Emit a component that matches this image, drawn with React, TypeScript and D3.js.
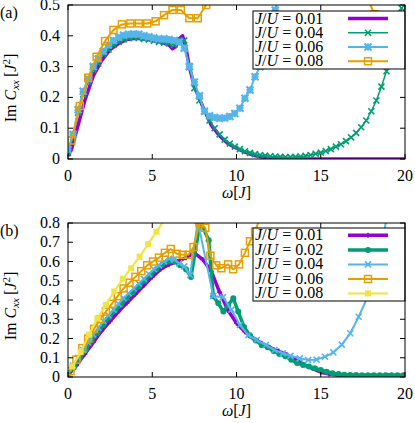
import React from 'react';
import * as d3 from 'd3';

// ---- panel (a) data ----
const wA01 = [0, 0.2, 0.5, 1.0, 1.5, 2.0, 2.5, 3.0, 3.5, 4.0, 4.5, 5.0, 5.5, 6.0, 6.2, 6.4, 6.6, 6.8, 7.0, 7.2, 7.5, 8.0, 8.5, 9.0, 9.5, 10.0, 10.5, 11.0, 11.5, 12.0, 12.5, 20];
const vA01 = [0.01, 0.03, 0.09, 0.19, 0.27, 0.32, 0.355, 0.375, 0.388, 0.392, 0.39, 0.385, 0.38, 0.37, 0.358, 0.365, 0.39, 0.4, 0.36, 0.3, 0.235, 0.17, 0.11, 0.075, 0.05, 0.035, 0.022, 0.012, 0.006, 0.002, 0, 0];

const wA04 = [0, 0.3, 0.6, 0.9, 1.2, 1.5, 1.8, 2.1, 2.4, 2.7, 3.0, 3.3, 3.6, 3.9, 4.2, 4.5, 4.8, 5.1, 5.4, 5.7, 6.0, 6.3, 6.6, 6.9, 7.2, 7.5, 7.8, 8.1, 8.4, 8.7, 9.0, 9.3, 9.6, 9.9, 10.2, 10.5, 10.8, 11.1, 11.4, 11.7, 12.0, 12.3, 12.6, 12.9, 13.2, 13.5, 13.8, 14.1, 14.4, 14.7, 15.0, 15.3, 15.6, 15.9, 16.2, 16.5, 16.8, 17.1, 17.4, 17.7, 18.0, 18.3, 18.6, 18.9, 19.2, 19.5, 19.8];
const vA04 = [0.02, 0.07, 0.15, 0.21, 0.25, 0.29, 0.31, 0.34, 0.355, 0.37, 0.38, 0.388, 0.392, 0.395, 0.393, 0.39, 0.388, 0.384, 0.38, 0.378, 0.375, 0.37, 0.385, 0.385, 0.3, 0.23, 0.19, 0.155, 0.125, 0.1, 0.08, 0.063, 0.05, 0.04, 0.032, 0.025, 0.02, 0.016, 0.013, 0.011, 0.009, 0.008, 0.007, 0.006, 0.006, 0.007, 0.008, 0.01, 0.013, 0.017, 0.021, 0.026, 0.032, 0.04, 0.048, 0.058, 0.07, 0.085, 0.103, 0.125, 0.155, 0.19, 0.235, 0.285, 0.33, 0.4, 0.49];

const wA06 = [0, 0.3, 0.6, 0.9, 1.2, 1.5, 1.8, 2.1, 2.4, 2.7, 3.0, 3.3, 3.6, 3.9, 4.2, 4.5, 4.8, 5.1, 5.4, 5.7, 6.0, 6.3, 6.6, 6.9, 7.2, 7.5, 7.8, 8.1, 8.4, 8.7, 9.0, 9.3, 9.6, 9.9, 10.2, 10.5, 10.8, 11.1, 11.4, 11.7, 12.0, 12.3, 12.6];
const vA06 = [0.03, 0.08, 0.16, 0.22, 0.26, 0.3, 0.325, 0.35, 0.37, 0.385, 0.395, 0.402, 0.405, 0.406, 0.405, 0.4, 0.397, 0.393, 0.39, 0.39, 0.388, 0.385, 0.38, 0.36, 0.3, 0.25, 0.205, 0.155, 0.14, 0.135, 0.132, 0.133, 0.138, 0.148, 0.165, 0.197, 0.224, 0.267, 0.3, 0.345, 0.4, 0.484, 0.56];

const wA08 = [0.2, 0.7, 1.2, 1.7, 2.2, 2.7, 3.2, 3.7, 4.2, 4.7, 5.2, 5.7, 6.2, 6.7, 7.2, 7.7, 8.2, 8.7, 17.2, 17.7, 18.2, 18.7, 19.2, 19.7, 20.2];
const vA08 = [0.06, 0.172, 0.264, 0.332, 0.383, 0.419, 0.437, 0.44, 0.44, 0.44, 0.447, 0.467, 0.484, 0.484, 0.457, 0.457, 0.5, 0.58, 0.62, 0.53, 0.47, 0.43, 0.41, 0.413, 0.5];

// ---- panel (b) data ----
const wB01 = [0, 0.5, 1.0, 1.5, 2.0, 2.5, 3.0, 3.5, 4.0, 4.5, 5.0, 5.5, 6.0, 6.5, 7.0, 7.5, 8.0, 8.5, 9.0, 9.5, 10.0, 10.5, 11.0, 11.5, 12.0, 12.5, 13.0, 13.5, 14.0, 14.5, 15.0, 15.5, 16.0, 17.0, 18.0, 19.0, 20.0];
const vB01 = [0.01, 0.06, 0.12, 0.18, 0.24, 0.29, 0.34, 0.385, 0.43, 0.475, 0.52, 0.56, 0.585, 0.6, 0.62, 0.645, 0.61, 0.55, 0.44, 0.345, 0.28, 0.235, 0.2, 0.175, 0.152, 0.135, 0.115, 0.09, 0.065, 0.045, 0.025, 0.015, 0.01, 0.008, 0.007, 0.007, 0.007];

const wB02 = [0, 0.35, 0.7, 1.05, 1.4, 1.75, 2.1, 2.45, 2.8, 3.15, 3.5, 3.85, 4.2, 4.55, 4.9, 5.25, 5.6, 5.95, 6.3, 6.65, 7.0, 7.3, 7.85, 8.35, 8.62, 8.92, 9.22, 9.51, 9.81, 10.1, 10.45, 10.8, 11.15, 11.5, 11.85, 12.2, 12.55, 12.9, 13.25, 13.6, 13.95, 14.3, 14.65, 15.0, 15.35, 15.7, 16.05, 16.4, 16.75, 17.1, 17.45, 17.8, 18.15, 18.5, 18.85, 19.2, 19.55, 19.9];
const vB02 = [0.02, 0.05, 0.1, 0.14, 0.19, 0.23, 0.27, 0.31, 0.345, 0.375, 0.41, 0.44, 0.47, 0.5, 0.53, 0.56, 0.585, 0.6, 0.6, 0.58, 0.56, 0.52, 0.81, 0.71, 0.42, 0.383, 0.34, 0.374, 0.409, 0.34, 0.26, 0.215, 0.19, 0.165, 0.155, 0.135, 0.12, 0.108, 0.09, 0.073, 0.062, 0.054, 0.045, 0.036, 0.027, 0.02, 0.015, 0.012, 0.01, 0.01, 0.009, 0.009, 0.009, 0.009, 0.009, 0.009, 0.009, 0.009];

const wB04 = [0, 0.3, 0.6, 0.9, 1.2, 1.5, 1.8, 2.1, 2.4, 2.7, 3.0, 3.3, 3.6, 3.9, 4.2, 4.5, 4.8, 5.1, 5.4, 5.7, 6.0, 6.3, 6.6, 6.9, 7.25, 7.7, 8.62, 9.2, 9.7, 10.2, 10.7, 11.2, 11.75, 12.25, 12.75, 13.2, 13.75, 14.25, 14.75, 15.25, 15.75, 16.25, 16.75, 17.25, 17.75, 18.25, 18.75, 19.25];
const vB04 = [0.02, 0.06, 0.1, 0.14, 0.18, 0.22, 0.255, 0.29, 0.32, 0.35, 0.38, 0.41, 0.435, 0.46, 0.485, 0.51, 0.535, 0.56, 0.58, 0.6, 0.615, 0.61, 0.59, 0.575, 0.53, 0.81, 0.42, 0.415, 0.35, 0.27, 0.218, 0.192, 0.166, 0.14, 0.123, 0.11, 0.097, 0.088, 0.09, 0.105, 0.128, 0.168, 0.227, 0.313, 0.41, 0.55, 0.75, 0.98];

const wB06 = [0.15, 0.5, 0.85, 1.2, 1.55, 1.9, 2.25, 2.6, 2.95, 3.3, 3.65, 4.0, 4.35, 4.7, 5.05, 5.4, 5.75, 6.1, 6.45, 6.8, 7.15, 7.45, 7.8, 8.15, 8.45, 8.8, 9.1, 9.5, 9.8, 10.15, 10.5, 10.8, 11.1, 11.4];
const vB06 = [0.03, 0.09, 0.15, 0.2, 0.25, 0.3, 0.34, 0.38, 0.42, 0.46, 0.49, 0.52, 0.55, 0.58, 0.6, 0.62, 0.645, 0.665, 0.64, 0.635, 0.635, 0.675, 0.8, 0.775, 0.63, 0.58, 0.565, 0.585, 0.56, 0.585, 0.645, 0.705, 0.755, 0.83];

const wB08 = [0.25, 0.75, 1.25, 1.75, 2.25, 2.75, 3.25, 3.75, 4.25, 4.75, 5.25, 5.75];
const vB08 = [0.055, 0.13, 0.22, 0.305, 0.375, 0.445, 0.51, 0.565, 0.625, 0.69, 0.755, 0.82];

const xTicks = [0, 5, 10, 15, 20];
const yTicksA = [0, 0.1, 0.2, 0.3, 0.4, 0.5];
const yTicksB = [0, 0.1, 0.2, 0.3, 0.4, 0.5, 0.6, 0.7, 0.8];

const PURPLE = '#9400d3';
const GREEN = '#009e73';
const BLUE = '#56b4e9';
const ORANGE = '#e69f00';
const YELLOW = '#f0e442';

const FONT = "'Liberation Serif', 'Times New Roman', Times, 'DejaVu Serif', serif";

type Series = { label: string; w: number[]; v: number[]; color: string; lw: number; marker: string; ms: number };

const seriesA: Series[] = [
  { label: '0.01', w: wA01, v: vA01, color: PURPLE, lw: 3.5, marker: 'none', ms: 0 },
  { label: '0.04', w: wA04, v: vA04, color: GREEN, lw: 1.5, marker: 'x', ms: 3 },
  { label: '0.06', w: wA06, v: vA06, color: BLUE, lw: 2, marker: 'star', ms: 3.5 },
  { label: '0.08', w: wA08, v: vA08, color: ORANGE, lw: 2, marker: 'square', ms: 3.5 },
];

const seriesB: Series[] = [
  { label: '0.01', w: wB01, v: vB01, color: PURPLE, lw: 3.5, marker: 'plus', ms: 2.5 },
  { label: '0.02', w: wB02, v: vB02, color: GREEN, lw: 3.5, marker: 'dot', ms: 3 },
  { label: '0.04', w: wB04, v: vB04, color: BLUE, lw: 2, marker: 'x', ms: 3 },
  { label: '0.06', w: wB06, v: vB06, color: ORANGE, lw: 2, marker: 'square', ms: 3.5 },
  { label: '0.08', w: wB08, v: vB08, color: YELLOW, lw: 2, marker: 'fsquare', ms: 3 },
];

function Marker({ type, x, y, s, color }: { type: string; x: number; y: number; s: number; color: string }) {
  if (type === 'x')
    return <path d={`M${x - s},${y - s}L${x + s},${y + s}M${x - s},${y + s}L${x + s},${y - s}`} stroke={color} strokeWidth={1.6} />;
  if (type === 'plus')
    return <path d={`M${x - s},${y}L${x + s},${y}M${x},${y - s}L${x},${y + s}`} stroke={color} strokeWidth={1.5} />;
  if (type === 'star')
    return (
      <path
        d={`M${x - s},${y - s}L${x + s},${y + s}M${x - s},${y + s}L${x + s},${y - s}M${x - s},${y}L${x + s},${y}M${x},${y - s}L${x},${y + s}`}
        stroke={color}
        strokeWidth={2.2}
      />
    );
  if (type === 'square')
    return <rect x={x - s} y={y - s} width={2 * s} height={2 * s} fill="none" stroke={color} strokeWidth={1.5} />;
  if (type === 'fsquare') return <rect x={x - s} y={y - s} width={2 * s} height={2 * s} fill={color} />;
  if (type === 'dot') return <circle cx={x} cy={y} r={s} fill={color} />;
  return null;
}

function LegendLabel({ x, y, value }: { x: number; y: number; value: string }) {
  return (
    <text x={x} y={y} style={{ fontFamily: FONT, fontSize: 16 }}>
      <tspan fontStyle="italic">J</tspan>/<tspan fontStyle="italic">U</tspan>
      {' = '}
      {value}
    </text>
  );
}

function Panel({
  id,
  top,
  bottom,
  yMax,
  yTicks,
  series,
  legend,
  tag,
}: {
  id: string;
  top: number;
  bottom: number;
  yMax: number;
  yTicks: number[];
  series: Series[];
  legend: { x0: number; x1: number; y0: number; y1: number; rows: number[] };
  tag: string;
}) {
  const left = 68;
  const right = 405;
  const x = d3.scaleLinear().domain([0, 20]).range([left, right]);
  const y = d3.scaleLinear().domain([0, yMax]).range([bottom, top]);
  const tl = 5;
  const mid = (top + bottom) / 2;
  const txt = { fontFamily: FONT, fontSize: 16 };

  return (
    <g>
      <defs>
        <clipPath id={`clip-${id}`}>
          <rect x={left} y={top} width={right - left} height={bottom - top} />
        </clipPath>
      </defs>
      <g clipPath={`url(#clip-${id})`}>
        {series.map((s) => {
          const pts = s.w.map((w, i) => [x(w), y(s.v[i])] as [number, number]);
          const path = d3.line()(pts) || '';
          return (
            <g key={s.label}>
              <path d={path} fill="none" stroke={s.color} strokeWidth={s.lw} strokeLinejoin="round" />
              {pts.map((p, i) => (
                <Marker key={i} type={s.marker} x={p[0]} y={p[1]} s={s.ms} color={s.color} />
              ))}
            </g>
          );
        })}
      </g>
      {/* ticks */}
      {xTicks.map((t) => (
        <g key={'xt' + t}>
          <line x1={x(t)} x2={x(t)} y1={bottom} y2={bottom - tl} stroke="#000" />
          <line x1={x(t)} x2={x(t)} y1={top} y2={top + tl} stroke="#000" />
          <text x={x(t)} y={bottom + 22} textAnchor="middle" style={txt}>
            {t}
          </text>
        </g>
      ))}
      {yTicks.map((t) => (
        <g key={'yt' + t}>
          <line x1={left} x2={left + tl} y1={y(t)} y2={y(t)} stroke="#000" />
          <line x1={right} x2={right - tl} y1={y(t)} y2={y(t)} stroke="#000" />
          <text x={60} y={y(t) + 5} textAnchor="end" style={txt}>
            {t === 0 ? '0' : d3.format('.1f')(t)}
          </text>
        </g>
      ))}
      {/* legend */}
      <rect x={legend.x0} y={legend.y0} width={legend.x1 - legend.x0} height={legend.y1 - legend.y0} fill="#fff" stroke="#000" />
      {series.map((s, i) => {
        const ry = legend.rows[i];
        return (
          <g key={'lg' + s.label}>
            <LegendLabel x={255} y={ry + 5} value={s.label} />
            <line x1={348} x2={388} y1={ry} y2={ry} stroke={s.color} strokeWidth={s.lw} />
            <Marker type={s.marker} x={368} y={ry} s={s.ms} color={s.color} />
          </g>
        );
      })}
      <rect x={left} y={top} width={right - left} height={bottom - top} fill="none" stroke="#000" />
      {/* axis labels */}
      <text x={(left + right) / 2} y={bottom + 39} textAnchor="middle" style={txt}>
        <tspan fontStyle="italic">ω</tspan>[<tspan fontStyle="italic">J</tspan>]
      </text>
      <text transform={`translate(16,${mid + 6}) rotate(-90)`} textAnchor="middle" style={txt}>
        Im <tspan fontStyle="italic">C</tspan>
        <tspan fontStyle="italic" fontSize={11} dy={3}>
          xx
        </tspan>
        <tspan dy={-3} dx={3}>[</tspan>
        <tspan fontStyle="italic">J</tspan>
        <tspan fontSize={11} dy={-6}>
          2
        </tspan>
        <tspan dy={6}>]</tspan>
      </text>
      <text x={0} y={top + 13} style={txt}>
        {tag}
      </text>
    </g>
  );
}

export default function App() {
  return (
    <svg
      width={415}
      height={423}
      style={{ position: 'absolute', left: 0, top: 0, background: '#fff', display: 'block' }}
    >
      <rect width={415} height={423} fill="#fff" />
      <Panel
        id="a"
        top={5}
        bottom={159}
        yMax={0.5}
        yTicks={yTicksA}
        series={seriesA}
        legend={{ x0: 253, x1: 405, y0: 11, y1: 69, rows: [18.5, 32.7, 47, 61.2] }}
        tag="(a)"
      />
      <Panel
        id="b"
        top={223}
        bottom={377}
        yMax={0.8}
        yTicks={yTicksB}
        series={seriesB}
        legend={{ x0: 253, x1: 405, y0: 228, y1: 301, rows: [235.3, 250, 264.4, 279, 293.4] }}
        tag="(b)"
      />
    </svg>
  );
}
